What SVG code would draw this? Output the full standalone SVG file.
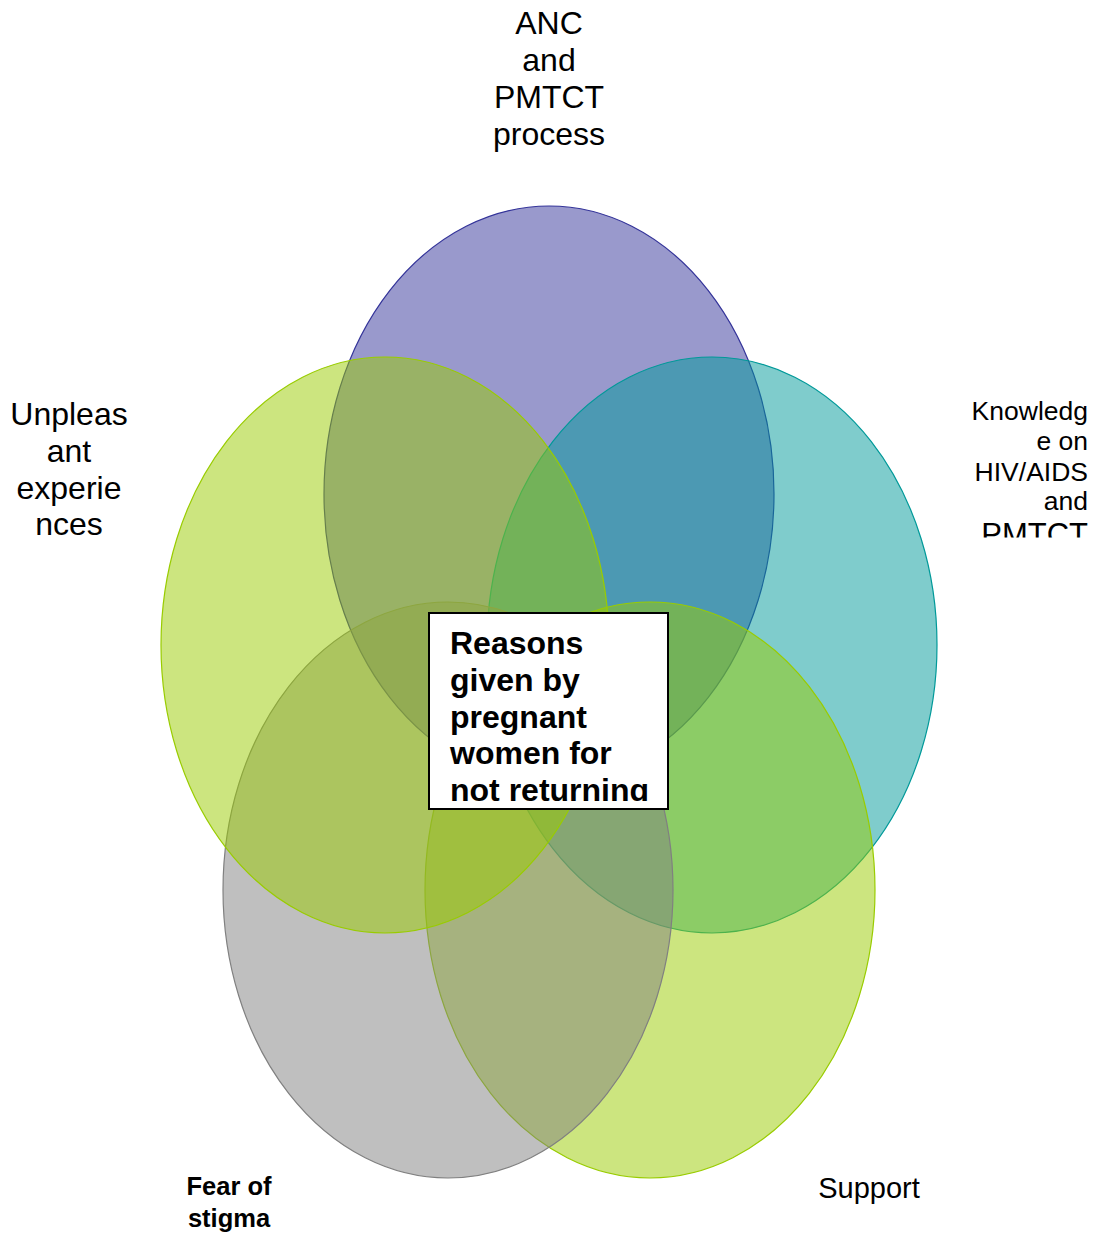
<svg xmlns="http://www.w3.org/2000/svg" width="1096" height="1234" viewBox="0 0 1096 1234">
<style>
.lbl{font-family:"Liberation Sans",Arial,sans-serif;fill:#000}
.big{font-size:32px}
.mid{font-size:26.5px}
.b{font-weight:bold}
.el{stroke-width:1.2;fill-opacity:0.5}
</style>
<defs>
<clipPath id="boxclip"><rect x="430" y="614" width="237" height="187"/></clipPath>
<clipPath id="rclip"><rect x="900" y="390" width="196" height="147.5"/></clipPath>
</defs>
<rect width="1096" height="1234" fill="#fff"/>
<g id="circles">
<g id="c-anc"><ellipse class="el" cx="549" cy="494" rx="225" ry="288" fill="#333399" stroke="#333399"/></g>
<g id="c-knowledge"><ellipse class="el" cx="712" cy="645" rx="225" ry="288" fill="#009999" stroke="#009999"/></g>
<g id="c-support"><ellipse class="el" cx="650" cy="890" rx="225" ry="288" fill="#99CC00" stroke="#99CC00"/></g>
<g id="c-stigma"><ellipse class="el" cx="448" cy="890" rx="225" ry="288" fill="#808080" stroke="#808080"/></g>
<g id="c-unpleasant"><ellipse class="el" cx="385" cy="645" rx="224" ry="288" fill="#99CC00" stroke="#99CC00"/></g>
</g>
<g id="center">
<rect x="429" y="613" width="239" height="196" fill="#fff" stroke="#000" stroke-width="2"/>
<g clip-path="url(#boxclip)">
<text class="lbl big b" x="450" y="654">Reasons</text>
<text class="lbl big b" x="450" y="691">given by</text>
<text class="lbl big b" x="450" y="728">pregnant</text>
<text class="lbl big b" x="450" y="764">women for</text>
<text class="lbl big b" x="450" y="801">not returning</text>
</g>
</g>
<g id="label-anc" text-anchor="middle">
<text class="lbl big" x="549" y="34">ANC</text>
<text class="lbl big" x="549" y="71">and</text>
<text class="lbl big" x="549" y="108">PMTCT</text>
<text class="lbl big" x="549" y="145">process</text>
</g>
<g id="label-unpleasant" text-anchor="middle">
<text class="lbl big" x="69" y="425">Unpleas</text>
<text class="lbl big" x="69" y="462">ant</text>
<text class="lbl big" x="69" y="499">experie</text>
<text class="lbl big" x="69" y="535">nces</text>
</g>
<g id="label-knowledge" text-anchor="end" clip-path="url(#rclip)">
<text class="lbl mid" x="1088" y="420">Knowledg</text>
<text class="lbl mid" x="1088" y="450">e on</text>
<text class="lbl mid" x="1088" y="481">HIV/AIDS</text>
<text class="lbl mid" x="1088" y="510">and</text>
<text class="lbl" font-size="31" x="1088" y="545">PMTCT</text>
</g>
<g id="label-stigma" text-anchor="middle">
<text class="lbl b" font-size="25.5" x="229" y="1195">Fear of</text>
<text class="lbl b" font-size="25.5" x="229" y="1227">stigma</text>
</g>
<g id="label-support" text-anchor="middle">
<text class="lbl" font-size="29" x="869" y="1198">Support</text>
</g>
</svg>
